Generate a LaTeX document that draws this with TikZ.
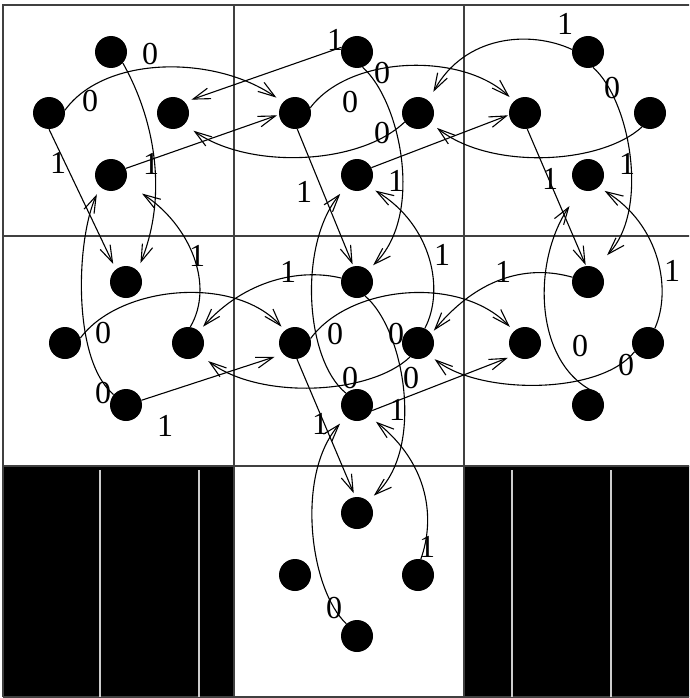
\documentclass[tikz,border=0pt]{standalone}
\usepackage{fontspec}
\setmainfont{Liberation Serif}
\usetikzlibrary{arrows.meta}
\begin{document}
\begin{tikzpicture}[x=1pt,y=-1pt,
  st/.style={circle,fill=black,minimum size=32pt,inner sep=0pt},
  lab/.style={font=\fontsize{32}{32}\selectfont,inner sep=0pt},
  edge/.style={line width=1.1pt,-{Straight Barb[length=17pt,width=11pt,line width=1.1pt]}},
  gridline/.style={line width=1.6pt,draw=black!75},
  whiteline/.style={line width=1.3pt,draw=black!20}]
\useasboundingbox (0,0) rectangle (689,698);
\fill[white] (0,0) rectangle (689,698);
\begin{scope}
\clip (0,0) rectangle (689,698);
% black cells
\fill[black] (3,466) rectangle (234,697);
\fill[black] (464,466) rectangle (700,697);
% grid
\draw[gridline] (3,697) -- (3,5) -- (700,5);
\draw[gridline] (3,697) -- (700,697);
\draw[gridline] (234,5) -- (234,697);
\draw[gridline] (464,5) -- (464,697);
\draw[gridline] (3,236) -- (700,236);
\draw[gridline] (3,466) -- (700,466);
\draw[whiteline] (100,470) -- (100,697);
\draw[whiteline] (199,470) -- (199,697);
\draw[whiteline] (512,470) -- (512,697);
\draw[whiteline] (611,470) -- (611,697);
\end{scope}
% states
\node[st] (T1) at (111,52) {};  \node[st] (L1) at (49,113) {};
\node[st] (R1) at (173,113) {}; \node[st] (D1) at (111,175) {};
\node[st] (T2) at (357,52) {};  \node[st] (L2) at (295,113) {};
\node[st] (R2) at (418,113) {}; \node[st] (D2) at (357,175) {};
\node[st] (T3) at (588,52) {};  \node[st] (L3) at (525,113) {};
\node[st] (R3) at (650,113) {}; \node[st] (D3) at (588,175) {};
\node[st] (T4) at (126,282) {}; \node[st] (L4) at (65,343) {};
\node[st] (R4) at (188,343) {}; \node[st] (D4) at (126,405) {};
\node[st] (T5) at (357,282) {}; \node[st] (L5) at (295,343) {};
\node[st] (R5) at (418,343) {}; \node[st] (D5) at (357,405) {};
\node[st] (T6) at (588,282) {}; \node[st] (L6) at (525,343) {};
\node[st] (R6) at (648,343) {}; \node[st] (D6) at (588,405) {};
\node[st] (T8) at (357,513) {}; \node[st] (L8) at (295,575) {};
\node[st] (R8) at (418,575) {}; \node[st] (D8) at (357,636) {};
% edges, row 1
\draw[edge,shorten >=8pt] (T1.-43) .. controls (155,120) and (168,195) .. (T4.45);
\draw[edge,shorten >=8pt] (L1.10) .. controls (105,55) and (215,55) .. (L2.138);
\draw[edge,shorten >=6pt] (L1.-90) -- (T4.129);
\draw[edge,shorten >=2pt] (D1.24) -- (L2.186);
\draw[edge,shorten >=7pt] (T2.163) -- (R1.43);
\draw[edge,shorten >=7pt] (T2.-70) .. controls (400,100) and (425,215) .. (T5.47);
\draw[edge,shorten >=6pt] (L2.19) .. controls (350,55) and (462,52) .. (L3.133);
\draw[edge,shorten >=2pt] (L2.-82) -- (T5.103);
\draw[edge,shorten >=11pt] (R2.214) .. controls (360,165) and (250,170) .. (R1.-45);
\draw[edge,shorten >=1pt] (D2.27) -- (L3.187);
\draw[edge,shorten >=10pt] (T3.171) .. controls (530,30) and (465,35) .. (R2.50);
\draw[edge,shorten >=17pt] (T3.-72) .. controls (630,100) and (650,210) .. (T6.63);
\draw[edge,shorten >=1pt] (L3.-82) -- (T6.97);
\draw[edge,shorten >=8pt] (R3.-120) .. controls (600,165) and (490,170) .. (R2.-38);
% edges, row 2
\draw[edge,shorten >=20pt] (R4.82) .. controls (215,285) and (190,225) .. (D1.-28);
\draw[edge,shorten >=5pt] (L4.18) .. controls (120,285) and (235,275) .. (L5.129);
\draw[edge,shorten >=8pt] (D4.140) .. controls (72,360) and (76,240) .. (D1.-132);
\draw[edge,shorten >=9pt] (D4.17) -- (L5.-137);
\draw[edge,shorten >=6pt] (T5.166) .. controls (300,268) and (245,280) .. (R4.47);
\draw[edge,shorten >=8pt] (T5.-60) .. controls (405,330) and (425,450) .. (T8.48);
\draw[edge,shorten >=6pt] (L5.16) .. controls (350,285) and (460,275) .. (L6.133);
\draw[edge,shorten >=4pt] (L5.-83) -- (T8.96);
\draw[edge,shorten >=11pt] (R5.-120) .. controls (370,395) and (260,400) .. (R4.-45);
\draw[edge,shorten >=8pt] (R5.65) .. controls (445,290) and (432,225) .. (D2.-45);
\draw[edge,shorten >=9pt] (D5.133) .. controls (305,360) and (298,245) .. (D2.-133);
\draw[edge,shorten >=7pt] (D5.-20) -- (L6.-131);
\draw[edge,shorten >=4pt] (T6.163) .. controls (530,265) and (480,275) .. (R5.35);
\draw[edge,shorten >=7pt] (R6.-147) .. controls (600,395) and (480,395) .. (R5.-47);
\draw[edge,shorten >=7pt] (R6.65) .. controls (672,290) and (660,225) .. (D3.-49);
\draw[edge,shorten >=20pt] (D6.41) .. controls (535,370) and (530,265) .. (D3.-117);
% edges, row 3
\draw[edge,shorten >=9pt] (D8.131) .. controls (310,590) and (295,475) .. (D5.-133);
\draw[edge,shorten >=9pt] (R8.80) .. controls (435,520) and (430,465) .. (D5.-43);
% labels
\node[lab] (a1) at (150,54) {0};
\node[lab] (a2) at (90,101) {0};
\node[lab] (a3) at (58,163) {1};
\node[lab] (a4) at (151,164) {1};
\node[lab] (a5) at (335,40) {1};
\node[lab] (a6) at (382,73) {0};
\node[lab] (a7) at (350,102) {0};
\node[lab] (a8) at (382,133) {0};
\node[lab] (a9) at (304,192) {1};
\node[lab] (a10) at (396,181) {1};
\node[lab] (a11) at (565,24) {1};
\node[lab] (a12) at (612,88) {0};
\node[lab] (a13) at (550,179) {1};
\node[lab] (a14) at (627,164) {1};
\node[lab] (b1) at (197,256) {1};
\node[lab] (b2) at (103,333) {0};
\node[lab] (b3) at (103,393) {0};
\node[lab] (b4) at (165,426) {1};
\node[lab] (b5) at (288,272) {1};
\node[lab] (b6) at (442,255) {1};
\node[lab] (b7) at (335,334) {0};
\node[lab] (b8) at (396,334) {0};
\node[lab] (b9) at (350,378) {0};
\node[lab] (b10) at (411,378) {0};
\node[lab] (b11) at (397,410) {1};
\node[lab] (b12) at (320,424) {1};
\node[lab] (b13) at (503,272) {1};
\node[lab] (b14) at (672,271) {1};
\node[lab] (b15) at (580,346) {0};
\node[lab] (b16) at (626,365) {0};
\node[lab] (c1) at (427,547) {1};
\node[lab] (c2) at (334,608) {0};
\end{tikzpicture}
\end{document}
